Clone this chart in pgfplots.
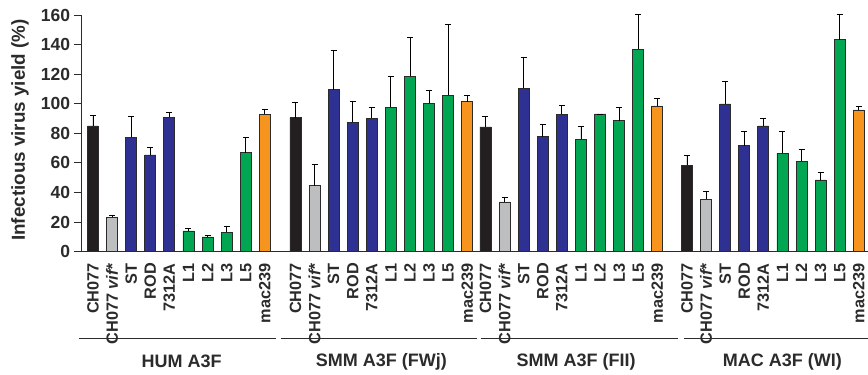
\documentclass[border=0pt]{standalone}
\usepackage{fontspec}
\setmainfont{Liberation Sans}
\usepackage{pgfplots}
\pgfplotsset{compat=1.18}
\usepackage{pgfplotstable}
\definecolor{cblack}{HTML}{231F20}
\definecolor{cgray}{HTML}{BCBEC0}
\definecolor{cblue}{HTML}{2E3192}
\definecolor{cgreen}{HTML}{00A651}
\definecolor{corange}{HTML}{F7941D}
\definecolor{cline}{HTML}{2B2B2B}

\pgfplotstableread{
x y e
0 85 7.4
10.6 90.6 10.1
20.55 84.3 7.0
31.1 58.6 6.3
}\blackdata
\pgfplotstableread{
x y e
1 23.2 1.1
11.6 44.6 14.2
21.55 33.6 3.4
32.1 35.6 5.4
}\graydata
\pgfplotstableread{
x y e
2 77.3 14.4
12.6 109.5 26.7
22.55 110.5 21.1
33.1 99.9 15.3
3 65.4 5.2
13.6 87.5 13.9
23.55 77.8 8.1
34.1 71.7 9.7
4 91.0 3.2
14.6 90.2 7.0
24.55 92.9 5.8
35.1 85.0 4.9
}\bluedata
\pgfplotstableread{
x y e
5 14.0 2.0
15.6 97.6 21.0
25.55 76.0 8.5
36.1 66.7 14.9
6 10.0 1.3
16.6 118.6 25.9
26.55 93.1 0
37.1 61.1 7.9
7 13.3 4.1
17.6 100.3 8.8
27.55 88.6 8.8
38.1 48.5 5.4
8 67.0 10.0
18.6 105.7 47.8
28.55 137.0 23.2
39.1 143.3 16.9
}\greendata
\pgfplotstableread{
x y e
9 92.9 3.4
19.6 101.4 4.1
29.55 98.5 5.4
40.1 95.8 2.2
}\orangedata

\pgfplotsset{mybar/.style={ybar, bar shift=0pt, bar width=11bp, draw=cline, line width=0.8pt,
     error bars/y dir=plus, error bars/y explicit,
     error bars/error bar style={line width=0.9pt, black},
     error bars/error mark options={line width=0.9pt, black, mark size=3bp, rotate=90}}}

\begin{document}
\begin{tikzpicture}
\path[use as bounding box] (0,0) rectangle (868bp,375bp);
\begin{axis}[
  at={(81.7bp,123.3bp)}, anchor=south west,
  scale only axis, width=786.3bp, height=236.7bp,
  xmin=-0.59, xmax=40.58, ymin=0, ymax=160,
  clip=false,
  axis lines=left,
  axis line style={-, line width=0.9pt, cline},
  ytick={0,20,...,160},
  tick align=outside,
  major tick length=8bp,
  ytick style={line width=0.9pt, cline},
  xtick style={draw=none},
  /pgf/number format/assume math mode=true,
  yticklabel style={font=\fontsize{17.5bp}{19bp}\selectfont\bfseries, text=cline},
  xtick={0,1,2,3,4,5,6,7,8,9,
         10.6,11.6,12.6,13.6,14.6,15.6,16.6,17.6,18.6,19.6,
         20.55,21.55,22.55,23.55,24.55,25.55,26.55,27.55,28.55,29.55,
         31.1,32.1,33.1,34.1,35.1,36.1,37.1,38.1,39.1,40.1},
  xticklabels={CH077,CH077 \textit{vif*},ST,ROD,7312A,L1,L2,L3,L5,mac239,
               CH077,CH077 \textit{vif*},ST,ROD,7312A,L1,L2,L3,L5,mac239,
               CH077,CH077 \textit{vif*},ST,ROD,7312A,L1,L2,L3,L5,mac239,
               CH077,CH077 \textit{vif*},ST,ROD,7312A,L1,L2,L3,L5,mac239},
  xticklabel style={rotate=90, anchor=east, font=\fontsize{16.3bp}{18bp}\selectfont\bfseries, text=cline},
  ylabel={Infectious virus yield (\%)},
  every axis y label/.style={at={(axis description cs:-0.0785,0.514)}, rotate=90, anchor=center, font=\fontsize{18.8bp}{20bp}\selectfont\bfseries, text=cline},
]
\addplot[mybar, fill=cblack] table[x=x, y=y, y error=e] {\blackdata};
\addplot[mybar, fill=cgray] table[x=x, y=y, y error=e] {\graydata};
\addplot[mybar, fill=cblue] table[x=x, y=y, y error=e] {\bluedata};
\addplot[mybar, fill=cgreen] table[x=x, y=y, y error=e] {\greendata};
\addplot[mybar, fill=corange] table[x=x, y=y, y error=e] {\orangedata};

\draw[cline, line width=1.3pt] (axis cs:-0.73,-58.5) -- (axis cs:9.58,-58.5);
\draw[cline, line width=1.3pt] (axis cs:9.83,-58.5) -- (axis cs:20.09,-58.5);
\draw[cline, line width=1.3pt] (axis cs:20.3,-58.5) -- (axis cs:30.64,-58.5);
\draw[cline, line width=1.3pt] (axis cs:30.94,-58.5) -- (axis cs:40.58,-58.5);
\begin{scope}[every node/.style={font=\fontsize{18bp}{19bp}\selectfont\bfseries, text=cline}]
\node at (axis cs:4.64,-74.4) {HUM A3F};
\node at (axis cs:15.1,-74.4) {SMM A3F (FWj)};
\node at (axis cs:25.3,-74.4) {SMM A3F (FII)};
\node at (axis cs:36.1,-74.4) {MAC A3F (WI)};
\end{scope}
\end{axis}
\end{tikzpicture}
\end{document}
